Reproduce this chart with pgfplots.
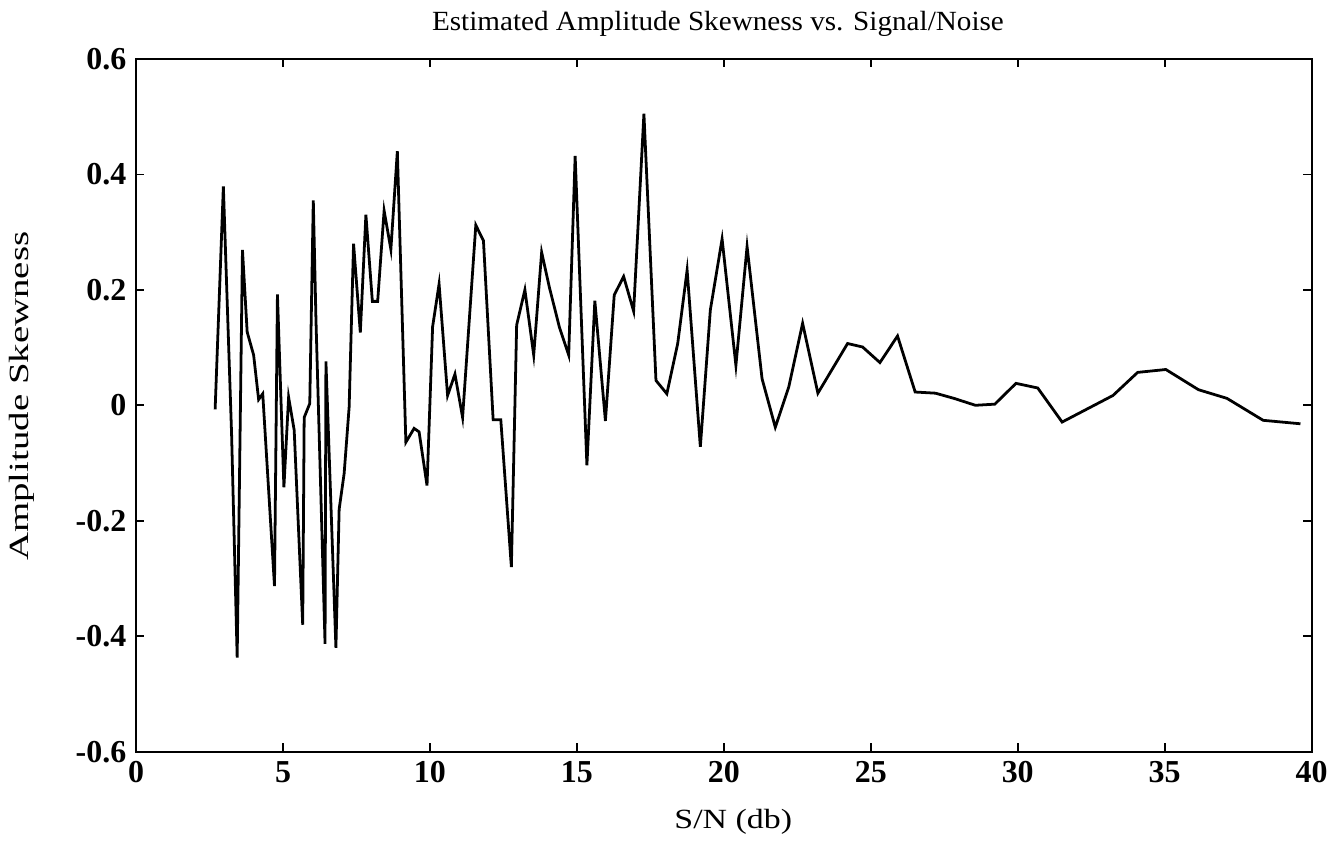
\documentclass[border=0pt]{standalone}
\usepackage{fontspec}
\setmainfont{Liberation Serif}
\usepackage{graphicx}
\usepackage{pgfplots}
\pgfplotsset{compat=1.18}
\begin{document}
\begin{tikzpicture}
\begin{axis}[
  scale only axis,
  width=423.3pt, height=249.5pt,
  xmin=0, xmax=40, ymin=-0.6, ymax=0.6,
  xtick={0,5,...,40},
  ytick={-0.6,-0.4,...,0.61},
  yticklabels={-0.6,-0.4,-0.2,0,0.2,0.4,0.6},
  tick align=inside,
  major tick length=3pt,
  tick style={black, line width=0.6pt},
  axis line style={line width=0.8pt},
  /pgf/number format/assume math mode=true,
  tick label style={font=\fontsize{11.5}{13}\selectfont\bfseries},
  label style={font=\fontsize{11}{13}\selectfont},
  title style={font=\fontsize{11}{13}\selectfont},
  title={\scalebox{1.05}[1]{Estimated Amplitude Skewness vs. Signal/Noise}},
  every axis title/.style={at={(axis description cs:0.495,1.05)}, anchor=center},
  xlabel={\scalebox{1.22}[1]{S/N (db)}},
  every axis x label/.style={at={(axis description cs:0.508,-0.101)}, anchor=center},
  ylabel={\scalebox{1.4}[1]{Amplitude Skewness}},
  every axis y label/.style={at={(axis description cs:-0.0975,0.513)}, rotate=90, anchor=center},
]
\addplot[black, line width=1pt] coordinates {
(2.69,-0.007) (2.97,0.379) (3.25,-0.05) (3.44,-0.437) (3.62,0.269) (3.78,0.127) (4.00,0.087)
(4.17,0.010) (4.31,0.020) (4.71,-0.313) (4.81,0.192) (5.03,-0.142) (5.19,0.014)
(5.38,-0.043) (5.67,-0.380) (5.72,-0.021) (5.91,0.003) (6.03,0.355) (6.12,0.150)
(6.43,-0.413) (6.46,0.076) (6.80,-0.420) (6.91,-0.180) (7.08,-0.118) (7.25,-0.003)
(7.40,0.280) (7.63,0.126) (7.82,0.330) (8.04,0.180) (8.22,0.180) (8.44,0.337)
(8.67,0.270) (8.89,0.440) (9.18,-0.064) (9.46,-0.040) (9.63,-0.046) (9.90,-0.139)
(10.09,0.136) (10.31,0.210) (10.60,0.017) (10.85,0.054) (11.11,-0.021) (11.56,0.312)
(11.82,0.285) (12.15,-0.025) (12.41,-0.025) (12.77,-0.280) (12.95,0.139) (13.23,0.200)
(13.53,0.087) (13.80,0.265) (14.06,0.205) (14.40,0.136) (14.72,0.087) (14.94,0.432)
(15.34,-0.104) (15.61,0.181) (15.97,-0.027) (16.27,0.191) (16.59,0.223) (16.93,0.163)
(17.28,0.505) (17.69,0.043) (18.06,0.020) (18.43,0.107) (18.75,0.234) (19.20,-0.072)
(19.54,0.165) (19.94,0.288) (20.41,0.069) (20.79,0.275) (21.30,0.046) (21.75,-0.038)
(22.21,0.032) (22.68,0.142) (23.20,0.021) (24.21,0.107) (24.72,0.101) (25.31,0.074)
(25.91,0.120) (26.51,0.023) (27.20,0.021) (27.83,0.012) (28.56,0.000) (29.22,0.002)
(29.94,0.038) (30.68,0.030) (31.51,-0.029) (33.24,0.017) (34.08,0.057) (35.04,0.062)
(36.15,0.027) (37.12,0.012) (38.35,-0.026) (39.62,-0.032)
};
\end{axis}
\pgfresetboundingbox
\path ([shift={(-49pt,-38.6pt)}]current axis.south west) rectangle ([shift={(7.7pt,21.2pt)}]current axis.north east);
\end{tikzpicture}
\end{document}
